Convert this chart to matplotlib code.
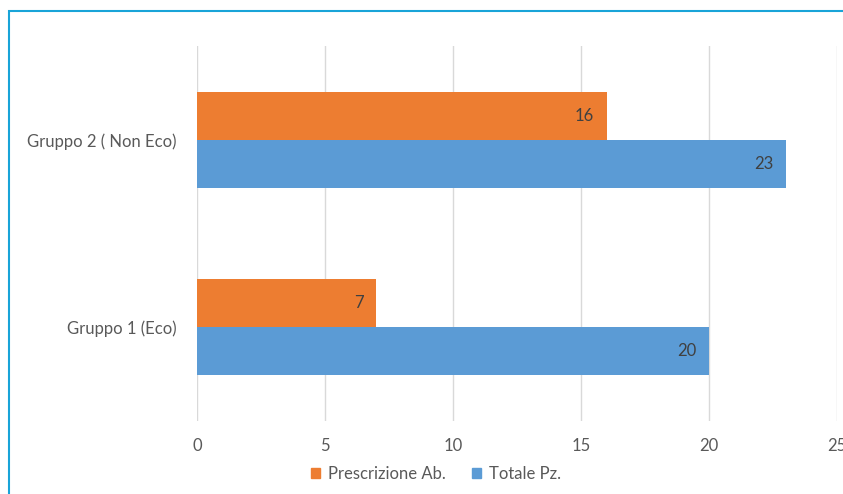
import matplotlib
matplotlib.use("Agg")
import matplotlib.pyplot as plt
from matplotlib.patches import Rectangle, Patch
import numpy as np

categories = ["Gruppo 1 (Eco)", "Gruppo 2 ( Non Eco)"]
prescrizione = [7, 16]
totale = [20, 23]
series_names = ["Prescrizione Ab.", "Totale Pz."]
xticks = [0, 5, 10, 15, 20, 25]

orange = "#ed7d31"
blue = "#5b9bd5"
plt.rcParams['font.family'] = ['Lato', 'DejaVu Sans']

fig = plt.figure(figsize=(8.43, 4.94), dpi=100)
fig.patch.set_facecolor("white")
fig.patches.append(Rectangle((9/843, -0.1), 1.2, 1 - 11/494 + 0.1, transform=fig.transFigure,
                             fill=False, edgecolor="#19a4d8", linewidth=1.5, zorder=0))

ax = fig.add_axes([197/843, 1 - 421/494, (837 - 197)/843, (421 - 46)/494])
ax.set_facecolor("none")
y = np.arange(len(categories))
h = 0.257
b1 = ax.barh(y + h/2, prescrizione, height=h, color=orange, zorder=3)
b2 = ax.barh(y - h/2, totale, height=h, color=blue, zorder=3)
for bars in (b1, b2):
    for r in bars:
        ax.text(r.get_width() - 0.5, r.get_y() + r.get_height()/2, f"{int(r.get_width())}",
                ha="right", va="center", fontsize=12, color="#404040", zorder=4)

ax.set_xlim(0, 25)
ax.set_ylim(-0.5, 1.5)
ax.set_xticks(xticks)
ax.set_xticklabels([str(t) for t in xticks])
ax.set_yticks(y)
ax.set_yticklabels(categories)
ax.tick_params(axis="both", length=0, labelsize=12, labelcolor="#595959")
ax.tick_params(axis="x", pad=12)
ax.tick_params(axis="y", pad=14.5)
ax.grid(axis="x", color="#d9d9d9", linewidth=1, zorder=0)
for s in ax.spines.values():
    s.set_visible(False)

handles = [Patch(color=orange, label=series_names[0]), Patch(color=blue, label=series_names[1])]
fig.legend(handles=handles, loc="center", bbox_to_anchor=(436/843, 1 - 474/494), ncol=2,
           frameon=False, fontsize=12, labelcolor="#595959", handlelength=0.55, handleheight=0.55,
           handletextpad=0.45, columnspacing=1.6)

fig.savefig("out.png", dpi=100, facecolor="white")
